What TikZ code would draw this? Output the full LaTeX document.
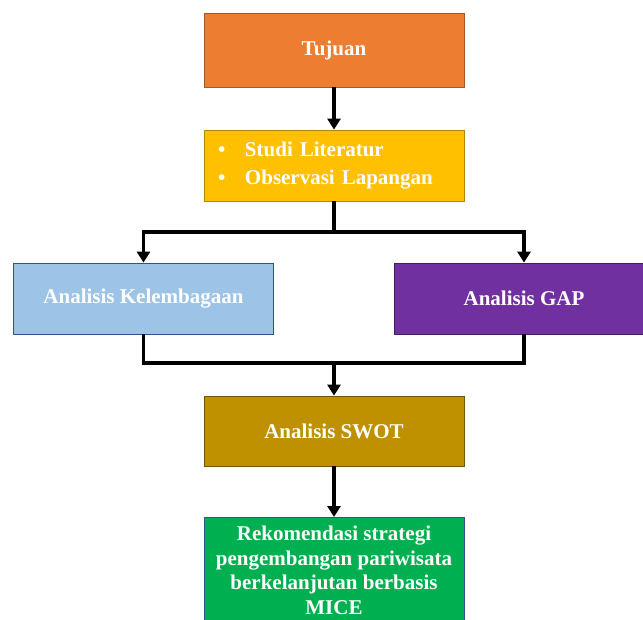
\documentclass[tikz,border=0pt]{standalone}
\usepackage{fontspec}
\setmainfont{Liberation Serif}
\usetikzlibrary{positioning,arrows.meta}
\definecolor{goalc}{HTML}{ED7D31}
\definecolor{litc}{HTML}{FFC000}
\definecolor{instc}{HTML}{9DC3E6}
\definecolor{gapc}{HTML}{7030A0}
\definecolor{swotc}{HTML}{BF9000}
\definecolor{recc}{HTML}{00B050}
\definecolor{edgec}{HTML}{2F528F}
\tikzset{
  flowbox/.style  = {shape=rectangle, draw, line width=0.8pt, align=center,
                     minimum width=260pt, minimum height=71pt, text=white,
                     font=\fontsize{21}{28}\selectfont\bfseries},
  goalbox/.style  = {flowbox, fill=goalc, draw=goalc!70!black, minimum height=74pt},
  litbox/.style   = {flowbox, fill=litc, draw=litc!70!black, align=left,
                     text width=232pt, inner xsep=14pt},
  instbox/.style  = {flowbox, fill=instc, draw=edgec},
  gapbox/.style   = {flowbox, fill=gapc, draw=gapc!60!black},
  swotbox/.style  = {flowbox, fill=swotc, draw=swotc!60!black, minimum height=70pt},
  recbox/.style   = {flowbox, fill=recc, draw=edgec, minimum height=106pt,
                     anchor=north, font=\fontsize{21}{24.5}\selectfont\bfseries},
  link/.style     = {line width=3.5pt},
  arrowlink/.style = {link, -{Triangle[length=11pt,width=13pt]}}
}
\newcommand{\bulletitem}[1]{\makebox[27pt][l]{\textbullet}#1}

\begin{document}
\begin{tikzpicture}[x=1pt,y=-1pt]
\useasboundingbox (0,0) rectangle (643,620);
\node [goalbox] (tujuan) at (334,50) {Tujuan};
\node [litbox]  (studi)  at (334,165.5) {\bulletitem{Studi Literatur}\\ \bulletitem{Observasi Lapangan}};
\node [instbox] (kelem)  at (143.5,298.5) {Analisis Kelembagaan};
\node [gapbox]  (gap)    at (524,298.5) {Analisis GAP};
\node [swotbox] (swot)   at (334,431) {Analisis SWOT};
\node [recbox]  (rekom)  at (334,517) {Rekomendasi strategi\\ pengembangan pariwisata\\ berkelanjutan berbasis\\ MICE};
\coordinate (split) at (334,232);
\coordinate (join)  at (334,363);
% connectors
\draw [arrowlink] (tujuan) -- (studi);
\draw [link] (studi) -- (split);
\draw [arrowlink] (split) -| (kelem.north);
\draw [arrowlink] (split) -| (gap.north);
\draw [link] (kelem.south) |- (join) -| (gap.south);
\draw [arrowlink] (join) -- (swot);
\draw [arrowlink] (swot) -- (rekom);
\end{tikzpicture}
\end{document}
